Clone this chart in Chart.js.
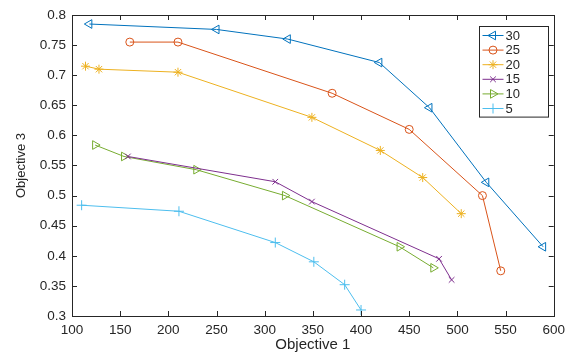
<!DOCTYPE html>
<html>
<head>
<meta charset="utf-8">
<script src="https://cdn.jsdelivr.net/npm/chart.js"></script>
<style>
  html, body { margin: 0; padding: 0; background: #fff; }
  #plot { display: block; }
</style>
</head>
<body>
<canvas id="plot" width="571" height="354"></canvas>
<script>
// series labels (legend order)
const seriesNames = ['30', '25', '20', '15', '10', '5'];

// Objective 1 / Objective 3 values
const obj1_30 = [118, 250, 324, 419, 471, 530, 589];
const obj3_30 = [0.785, 0.776, 0.76, 0.721, 0.646, 0.522, 0.415];

const obj1_25 = [160, 210, 370, 450, 526, 545];
const obj3_25 = [0.755, 0.755, 0.67, 0.61, 0.5, 0.375];

const obj1_20 = [114, 128, 210, 349, 420, 464, 504];
const obj3_20 = [0.715, 0.71, 0.705, 0.63, 0.575, 0.53, 0.47];

const obj1_15 = [158, 311, 349, 481, 494];
const obj3_15 = [0.565, 0.523, 0.49, 0.395, 0.36];

const obj1_10 = [124, 154, 229, 321, 440, 475];
const obj3_10 = [0.584, 0.565, 0.543, 0.5, 0.415, 0.38];

const obj1_5 = [110, 211, 311, 351, 383, 400];
const obj3_5 = [0.484, 0.474, 0.422, 0.39, 0.352, 0.31];

const xTicks = [100, 150, 200, 250, 300, 350, 400, 450, 500, 550, 600];
const yTicks = [0.3, 0.35, 0.4, 0.45, 0.5, 0.55, 0.6, 0.65, 0.7, 0.75, 0.8];

const xs = [obj1_30, obj1_25, obj1_20, obj1_15, obj1_10, obj1_5];
const ys = [obj3_30, obj3_25, obj3_20, obj3_15, obj3_10, obj3_5];

// matlab default colour order
const colors = ['#0072BD', '#D95319', '#EDB120', '#7E2F8E', '#77AC30', '#4DBEEE'];
const markers = [
  { style: 'triangle', rot: -90, r: 5 },
  { style: 'circle', rot: 0, r: 4 },
  { style: 'star', rot: 0, r: 4.5 },
  { style: 'crossRot', rot: 0, r: 4 },
  { style: 'triangle', rot: 90, r: 5 },
  { style: 'cross', rot: 0, r: 5 }
];

const axisColor = '#262626';
const fontFam = '"Liberation Sans", Arial, sans-serif';

function makeDatasets() {
  let sets = [];
  for (let i = 0; i < seriesNames.length; i++) {
    let pts = [];
    for (let j = 0; j < xs[i].length; j++) {
      pts.push({ x: xs[i][j], y: ys[i][j] });
    }
    sets.push({
      label: seriesNames[i],
      data: pts,
      showLine: true,
      borderColor: colors[i],
      borderWidth: 1,
      pointStyle: markers[i].style,
      pointRotation: markers[i].rot,
      pointRadius: markers[i].r,
      pointBorderColor: colors[i],
      pointBackgroundColor: 'rgba(0,0,0,0)',
      pointBorderWidth: 1,
      tension: 0
    });
  }
  return sets;
}

// box + inward ticks, matlab style
const boxTicks = {
  id: 'boxTicks',
  afterDraw(chart) {
    const ctx = chart.ctx;
    const a = chart.chartArea;
    const sx = chart.scales.x, sy = chart.scales.y;
    const len = 5;
    ctx.save();
    ctx.strokeStyle = axisColor;
    ctx.lineWidth = 1;
    ctx.beginPath();
    xTicks.forEach(v => {
      const px = Math.round(sx.getPixelForValue(v)) + 0.5;
      ctx.moveTo(px, a.bottom); ctx.lineTo(px, a.bottom - len);
      ctx.moveTo(px, a.top); ctx.lineTo(px, a.top + len);
    });
    yTicks.forEach(v => {
      const py = Math.round(sy.getPixelForValue(v)) + 0.5;
      ctx.moveTo(a.left, py); ctx.lineTo(a.left + len, py);
      ctx.moveTo(a.right, py); ctx.lineTo(a.right - len, py);
    });
    ctx.stroke();
    ctx.strokeRect(Math.round(a.left) + 0.5, Math.round(a.top) + 0.5,
      Math.round(a.right - a.left), Math.round(a.bottom - a.top));
    ctx.restore();
  }
};

// legend box inside the axes, top right
const boxLegend = {
  id: 'boxLegend',
  afterDraw(chart) {
    const ctx = chart.ctx;
    const a = chart.chartArea;
    const w = 69, rowH = 14.6;
    const h = rowH * seriesNames.length + 3;
    const left = Math.round(a.right - 6 - w) + 0.5;
    const top = Math.round(a.top + 11) + 0.5;
    ctx.save();
    ctx.fillStyle = '#fff';
    ctx.fillRect(left, top, w, h);
    ctx.strokeStyle = axisColor;
    ctx.lineWidth = 1;
    ctx.strokeRect(left, top, w, h);
    ctx.font = '13px ' + fontFam;
    ctx.textBaseline = 'middle';
    for (let i = 0; i < seriesNames.length; i++) {
      const cy = top + 9 + i * rowH;
      ctx.strokeStyle = colors[i];
      ctx.beginPath();
      ctx.moveTo(left + 3, cy);
      ctx.lineTo(left + 24, cy);
      ctx.stroke();
      ctx.fillStyle = 'rgba(0,0,0,0)';
      Chart.helpers.drawPoint(ctx, {
        pointStyle: markers[i].style,
        rotation: markers[i].rot,
        radius: markers[i].r,
        borderWidth: 1
      }, left + 13.5, cy);
      ctx.fillStyle = axisColor;
      ctx.fillText(seriesNames[i], left + 26, cy + 0.5);
    }
    ctx.restore();
  }
};

const chart = new Chart(document.getElementById('plot'), {
  type: 'scatter',
  data: { datasets: makeDatasets() },
  options: {
    responsive: false,
    animation: false,
    devicePixelRatio: 1,
    layout: { padding: { top: 15, right: 17, left: 0, bottom: 0 } },
    plugins: {
      legend: { display: false },
      tooltip: { enabled: false }
    },
    scales: {
      x: {
        type: 'linear',
        min: 100, max: 600,
        afterFit(scale) { scale.height = 38; },
        afterBuildTicks(scale) { scale.ticks = xTicks.map(v => ({ value: v })); },
        grid: { display: false, drawTicks: false },
        border: { display: false },
        ticks: {
          color: axisColor, padding: 6,
          font: { family: fontFam, size: 13.5 },
          maxRotation: 0
        },
        title: {
          display: true, text: 'Objective 1', color: axisColor,
          font: { family: fontFam, size: 15 },
          padding: { top: 0, bottom: 0 }
        }
      },
      y: {
        type: 'linear',
        min: 0.3, max: 0.8,
        afterFit(scale) { scale.width = 72; },
        afterBuildTicks(scale) { scale.ticks = yTicks.map(v => ({ value: v })); },
        grid: { display: false, drawTicks: false },
        border: { display: false },
        ticks: {
          color: axisColor, padding: 6,
          font: { family: fontFam, size: 13.5 },
          callback: v => String(Number(v.toFixed(2)))
        },
        title: {
          display: true, text: 'Objective 3', color: axisColor,
          font: { family: fontFam, size: 13 },
          padding: { top: 14, bottom: 0 }
        }
      }
    }
  },
  plugins: [boxTicks, boxLegend]
});
</script>
</body>
</html>
